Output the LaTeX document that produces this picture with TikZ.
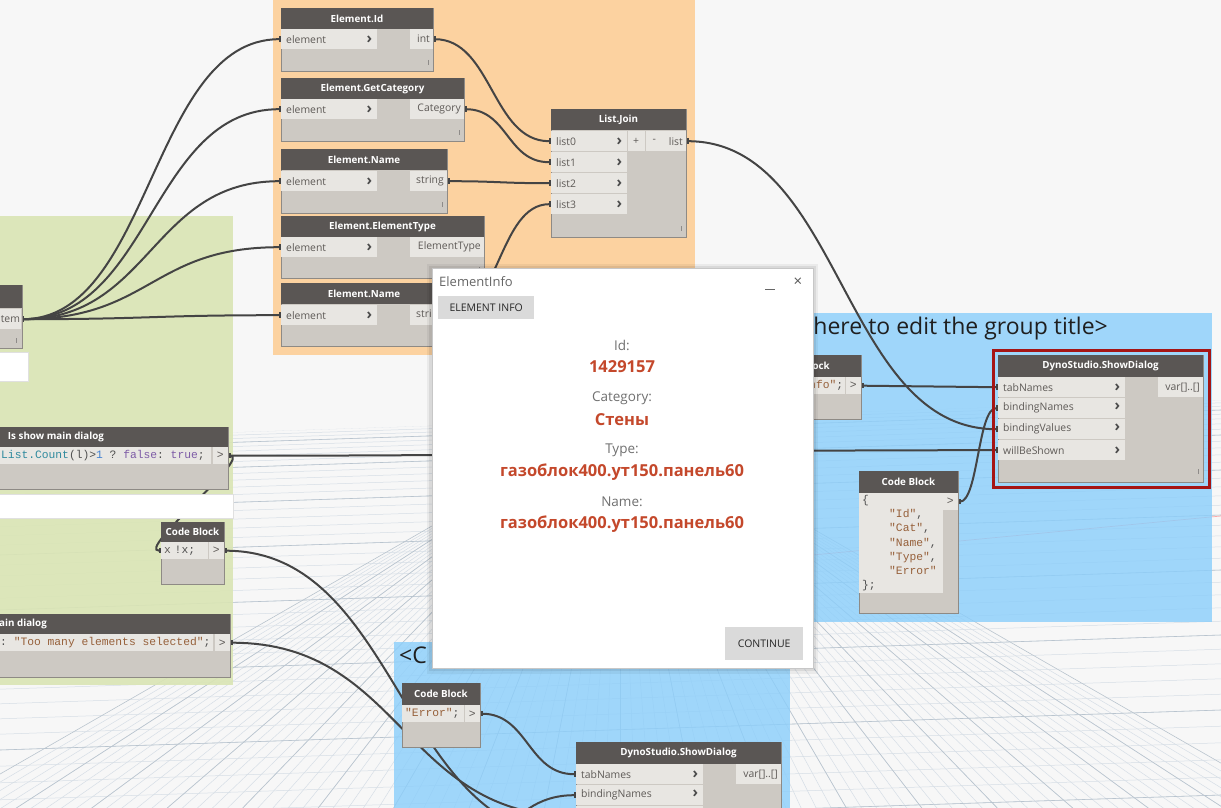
\documentclass[tikz,border=0pt]{standalone}
\usepackage{fontspec}
\setmainfont{Open Sans}
\setmonofont{Liberation Mono}
\usetikzlibrary{arrows.meta}

\definecolor{canvas}{HTML}{F7F7F7}
\definecolor{gridmin}{HTML}{D6DEE6}
\definecolor{gridmaj}{HTML}{B9C4CE}
\definecolor{grporange}{HTML}{FCD2A0}
\definecolor{grpgreen}{HTML}{DAE5B4}
\definecolor{grpblue}{HTML}{8ACEFB}
\definecolor{nodehead}{HTML}{5A5654}
\definecolor{nodebody}{HTML}{CDC9C3}
\definecolor{nodeedge}{HTML}{8E8A85}
\definecolor{portbg}{HTML}{E8E6E2}
\definecolor{porttext}{HTML}{5E5A57}
\definecolor{wirec}{HTML}{444444}
\definecolor{selred}{HTML}{A51515}
\definecolor{rust}{HTML}{C4482B}
\definecolor{dlggray}{HTML}{707070}
\definecolor{btngray}{HTML}{DADADA}
\definecolor{cstr}{HTML}{96603A}
\definecolor{cfun}{HTML}{2F8A9E}
\definecolor{cnum}{HTML}{3F7FD0}
\definecolor{ckey}{HTML}{7D5BA6}
\definecolor{cplain}{HTML}{505050}

\newcommand\portfont{\fontsize{10.4}{12}\selectfont}
\newcommand\headfont{\fontsize{9.8}{12}\selectfont\bfseries}
\newcommand\codefont{\fontsize{11.3}{14.2}\selectfont\ttfamily}
\newcommand\grpfont{\fontsize{23}{27}\selectfont}
\newcommand\dlgtitlefont{\fontsize{13}{15}\selectfont}
\newcommand\lblfont{\fontsize{13.5}{16}\selectfont}
\newcommand\valfont{\fontsize{16.5}{19}\selectfont\bfseries}
\newcommand\btnfont{\fontsize{10.5}{12}\selectfont}
\newcommand\chev{{\fontsize{15}{12}\selectfont\bfseries\color{black!70}›}}

\pgfdeclarelayer{bg}
\pgfdeclarelayer{wires}
\pgfsetlayers{bg,wires,main}

\begin{document}
\begin{tikzpicture}[x=1pt,y=-1pt,
  dnbox/.style={anchor=north west, draw=nodeedge, line width=0.8pt, fill=nodebody, inner sep=0pt},
  dnhead/.style={fill=nodehead},
  dntitle/.style={text=white, font=\headfont, inner sep=0pt},
  dnport/.style={anchor=north west, fill=portbg, minimum height=20pt, inner xsep=5pt, inner ysep=0pt, text width=#1, font=\portfont, text=porttext},
  dnout/.style={anchor=north east, fill=portbg, minimum height=20pt, inner xsep=3pt, inner ysep=0pt, text width=#1, align=right, font=\portfont, text=porttext},
  cbrow/.style={anchor=north west, fill=portbg, minimum height=17pt, inner xsep=3pt, inner ysep=0pt, text width=#1, font=\codefont, text=cplain},
  cbout/.style={anchor=north east, fill=portbg, minimum width=15pt, minimum height=17pt, inner sep=0pt, font=\codefont, text=porttext},
  cbtxt/.style={anchor=west, font=\codefont, text=cplain, inner sep=0pt},
  grip/.style={draw=porttext!70, line width=0.7pt},
  wire/.style={draw=wirec, line width=2pt, {Rectangle[length=2.5pt,width=5.5pt]}-{Rectangle[length=2.5pt,width=5.5pt]}},
  gridln/.style={draw=gridmin, line width=0.5pt},
  gridmj/.style={draw=gridmaj, line width=0.6pt},
  grptitle/.style={font=\grpfont, text=black!88, inner sep=0pt},
  lbl/.style={font=\lblfont, text=dlggray, inner sep=0pt},
  val/.style={font=\valfont, text=rust, inner sep=0pt},
  btn/.style={anchor=north west, fill=btngray, font=\btnfont, text=black!85, inner sep=0pt}]

\useasboundingbox (0,0) rectangle (1221,808);

% canvas, floor grid and groups
\begin{pgfonlayer}{bg}
 \fill[canvas] (0,0) rectangle (1221,808);
 \begin{scope}
  \clip (0,440) -- (1221,400) -- (1221,808) -- (0,808) -- cycle;
  \foreach \i in {4,...,46} \draw[gridln] (0,{430+0.2*\i*\i}) -- (1221,{390+0.2*\i*\i});
  \foreach \j in {-44,...,44} \draw[gridln] (620,418) -- ({620+\j*38},1400);
  \foreach \i in {5,10,...,45} \draw[gridmj] (0,{430+0.2*\i*\i}) -- (1221,{390+0.2*\i*\i});
  \foreach \j in {-45,-40,...,45} \draw[gridmj] (620,418) -- ({620+\j*38},1400);
  \draw[red!70, opacity=0.45, line width=0.7pt] (813,555) -- (1221,516);
 \end{scope}
 \fill[grporange] (273,-5) rectangle (695,355);
 \fill[grpgreen, fill opacity=0.9] (-5,216) rectangle (233,685);
 \fill[grpblue, fill opacity=0.8] (720,313) rectangle (1212,622);
 \fill[grpblue, fill opacity=0.8] (394,642) rectangle (790,815);
 \node[grptitle, anchor=base east] (t-blue1) at (1108,334) {<Click here to edit the group title>};
 \node[grptitle, anchor=base west] (t-blue2) at (399,663) {<C};
\end{pgfonlayer}

% selection item node
\node[dnbox, minimum width=102pt, minimum height=63pt] (itm) at (-80,285) {};
\fill[dnhead] (itm.north west) rectangle ++(102,23);
\node[dnout=17pt] (itm-out) at (21,309) {tem};
\draw[grip] (16,338) -- (16,343);

% Element.Id
\node[dnbox, minimum width=152pt, minimum height=63pt] (eid) at (281,8) {};
\fill[dnhead] (eid.north west) rectangle ++(152,21);
\node[dntitle] (eid-t) at (357,18.5) {Element.Id};
\node[dnport=86pt] (eid-in) at (281,29) {element\hfill\chev};
\node[dnout=17pt] (eid-out) at (433,29) {int};
\draw[grip] (428,60) -- (428,65);

% Element.GetCategory
\node[dnbox, minimum width=183pt, minimum height=63pt] (ecat) at (281,78) {};
\fill[dnhead] (ecat.north west) rectangle ++(183,21);
\node[dntitle] (ecat-t) at (372.5,88.5) {Element.GetCategory};
\node[dnport=86pt] (ecat-in) at (281,99) {element\hfill\chev};
\node[dnout=48pt] (ecat-out) at (464,99) {Category};
\draw[grip] (459,130) -- (459,135);

% Element.Name
\node[dnbox, minimum width=166pt, minimum height=64pt] (enam) at (281,149) {};
\fill[dnhead] (enam.north west) rectangle ++(166,21);
\node[dntitle] (enam-t) at (364,159.5) {Element.Name};
\node[dnport=86pt] (enam-in) at (281,171) {element\hfill\chev};
\node[dnout=31pt] (enam-out) at (447,171) {string};
\draw[grip] (442,202) -- (442,207);

% Element.ElementType
\node[dnbox, minimum width=203pt, minimum height=62pt] (etyp) at (281,216) {};
\fill[dnhead] (etyp.north west) rectangle ++(203,21);
\node[dntitle] (etyp-t) at (382.5,226.5) {Element.ElementType};
\node[dnport=86pt] (etyp-in) at (281,237) {element\hfill\chev};
\node[dnout=68pt] (etyp-out) at (484,237) {ElementType};
\draw[grip] (479,267) -- (479,272);

% Element.Name (2)
\node[dnbox, minimum width=166pt, minimum height=63pt] (enm2) at (281,283) {};
\fill[dnhead] (enm2.north west) rectangle ++(166,21);
\node[dntitle] (enm2-t) at (364,293.5) {Element.Name};
\node[dnport=86pt] (enm2-in) at (281,305) {element\hfill\chev};
\node[dnout=31pt] (enm2-out) at (447,305) {string};

% List.Join
\node[dnbox, minimum width=135pt, minimum height=128pt] (lj) at (551,109) {};
\fill[dnhead] (lj.north west) rectangle ++(135,21);
\node[dntitle] (lj-t) at (618.5,119.5) {List.Join};
\foreach \k/\yy in {0/131,1/152,2/173,3/194}
  \node[dnport=66pt] (lj-in\k) at (551,\yy) {list\k\hfill\chev};
\node[anchor=north west, fill=portbg, minimum width=17pt, minimum height=20pt, inner sep=0pt, font=\portfont, text=porttext] (lj-add) at (627.5,131) {+};
\node[anchor=north west, fill=portbg, minimum width=17pt, minimum height=20pt, inner sep=0pt, font=\portfont, text=porttext] (lj-rem) at (645.5,131) {-};
\node[dnout=18pt] (lj-out) at (686,131) {list};
\draw[grip] (681,226) -- (681,231);

% DynoStudio.ShowDialog (selected)
\draw[selred, line width=3pt] (993,350) rectangle (1209,487);
\node[dnbox, minimum width=205pt, minimum height=127pt] (sd) at (998,355) {};
\fill[dnhead] (sd.north west) rectangle ++(205,22);
\node[dntitle] (sd-t) at (1100.5,366) {DynoStudio.ShowDialog};
\foreach \k/\nm/\yy in {0/tabNames/377,1/bindingNames/398,2/bindingValues/419,3/willBeShown/440}
  \node[dnport=117pt] (sd-in\k) at (998,\yy) {\nm\hfill\chev};
\node[dnout=39pt] (sd-out) at (1203,377) {var[]..[]};
\draw[grip] (1198,469) -- (1198,474);

% DynoStudio.ShowDialog (lower group)
\node[dnbox, minimum width=205pt, minimum height=138pt] (sd2) at (576,742) {};
\fill[dnhead] (sd2.north west) rectangle ++(205,22);
\node[dntitle] (sd2-t) at (678.5,753) {DynoStudio.ShowDialog};
\node[dnport=117pt] (sd2-in0) at (576,764) {tabNames\hfill\chev};
\node[dnport=117pt] (sd2-in1) at (576,785) {bindingNames\hfill\chev};
\node[dnport=117pt] (sd2-in2) at (576,806) {};
\node[dnport=117pt] (sd2-in3) at (576,827) {};
\node[dnout=39pt] (sd2-out) at (781,764) {var[]..[]};

% Code Block, tab name
\node[dnbox, minimum width=116pt, minimum height=64pt] (cbi) at (745,355) {};
\fill[dnhead] (cbi.north west) rectangle ++(116,22);
\node[dntitle] (cbi-t) at (803,366) {Code Block};
\node[cbrow=94pt] (cbi-code) at (745,377) {\textcolor{cstr}{"ElementInfo"};};
\node[cbout] (cbi-out) at (861,377) {>};

% Code Block, binding names
\node[dnbox, minimum width=99pt, minimum height=142pt] (cbr) at (859,471) {};
\fill[dnhead] (cbr.north west) rectangle ++(99,22);
\node[dntitle] (cbr-t) at (908.5,482) {Code Block};
\node[cbrow=78pt, minimum height=100pt, align=left] (cbr-code) at (859,493)
  {\{\\
   \hspace*{27pt}\textcolor{cstr}{"Id"},\\
   \hspace*{27pt}\textcolor{cstr}{"Cat"},\\
   \hspace*{27pt}\textcolor{cstr}{"Name"},\\
   \hspace*{27pt}\textcolor{cstr}{"Type"},\\
   \hspace*{27pt}\textcolor{cstr}{"Error"}\\
   \};};
\node[cbout] (cbr-out) at (958,493) {>};

% Is show main dialog
\node[dnbox, minimum width=344pt, minimum height=62pt] (ism) at (-116,427) {};
\fill[dnhead] (ism.north west) rectangle ++(344,20);
\node[dntitle] (ism-t) at (56,437) {Is show main dialog};
\node[cbrow=321pt] (ism-code) at (-116,447) {};
\node[cbtxt] (ism-txt) at (1,456) {\textcolor{cfun}{List.Count}(l)>\textcolor{cnum}{1} ? \textcolor{ckey}{false}: \textcolor{ckey}{true};};
\node[cbout] (ism-out) at (228,447) {>};

% notes
\node[anchor=north west, fill=white, draw=black!12, minimum width=30pt, minimum height=29pt] (note-a) at (-2,352) {};
\node[anchor=north west, fill=white, draw=black!12, minimum width=235pt, minimum height=24pt] (note-b) at (-2,494) {};

% Code Block, negation
\node[dnbox, minimum width=63pt, minimum height=62pt] (cbx) at (161,522) {};
\fill[dnhead] (cbx.north west) rectangle ++(63,20);
\node[dntitle] (cbx-t) at (192.5,532) {Code Block};
\node[cbrow=41pt] (cbx-code) at (161,542) {\textcolor{porttext}{x} !x;};
\node[cbout] (cbx-out) at (224,542) {>};

% error message
\node[dnbox, minimum width=330pt, minimum height=63pt] (msg) at (-100,614) {};
\fill[dnhead] (msg.north west) rectangle ++(330,20);
\node[dntitle, anchor=west] (msg-t) at (-1,624) {ain dialog};
\node[cbrow=307pt] (msg-code) at (-100,634) {};
\node[cbtxt] (msg-txt) at (0,643) {: \textcolor{cstr}{"Too many elements selected"};};
\node[cbout] (msg-out) at (230,634) {>};

% Code Block, error tab
\node[dnbox, minimum width=78pt, minimum height=64pt] (cbe) at (402,683) {};
\fill[dnhead] (cbe.north west) rectangle ++(78,22);
\node[dntitle] (cbe-t) at (441,694) {Code Block};
\node[cbrow=56pt] (cbe-code) at (402,705) {\textcolor{cstr}{"Error"};};
\node[cbout] (cbe-out) at (480,705) {>};

\coordinate (namesrc) at (420,880);

% wires
\begin{pgfonlayer}{wires}
 \draw[wire] (itm-out.east) .. controls +(130,0) and +(-130,0) .. (eid-in.west);
 \draw[wire] (itm-out.east) .. controls +(130,0) and +(-130,0) .. (ecat-in.west);
 \draw[wire] (itm-out.east) .. controls +(130,0) and +(-130,0) .. (enam-in.west);
 \draw[wire] (itm-out.east) .. controls +(130,0) and +(-130,0) .. (etyp-in.west);
 \draw[wire] (itm-out.east) .. controls +(130,0) and +(-130,0) .. (enm2-in.west);
 \draw[wire] (eid-out.east) .. controls +(59,0) and +(-59,0) .. (lj-in0.west);
 \draw[wire] (ecat-out.east) .. controls +(44,0) and +(-44,0) .. (lj-in1.west);
 \draw[wire] (enam-out.east) .. controls +(52,0) and +(-52,0) .. (lj-in2.west);
 \draw[wire] (enm2-out.east) .. controls +(52,0) and +(-52,0) .. (lj-in3.west);
 \draw[wire] (lj-out.east) .. controls +(156,0) and +(-156,0) .. (sd-in2.west);
 \draw[wire] (cbi-out.east) .. controls +(68,0) and +(-68,0) .. (sd-in0.west);
 \draw[wire] (cbr-out.east) .. controls +(20,0) and +(-20,0) .. (sd-in1.west);
 \draw[wire] (ism-out.east) .. controls +(385,0) and +(-385,0) .. (sd-in3.west);
 \draw[wire] (ism-out.east) .. controls +(25,0) and +(-25,0) .. (cbx-code.west);
 \draw[wire] (cbx-out.east) .. controls +(176,0) and +(-176,0) .. (sd2-in3.west);
 \draw[wire] (msg-out.east) .. controls +(173,0) and +(-173,0) .. (sd2-in2.west);
 \draw[wire] (cbe-out.east) .. controls +(48,0) and +(-48,0) .. (sd2-in0.west);
 \draw[wire] (namesrc) .. controls +(78,0) and +(-78,0) .. (sd2-in1.west);
\end{pgfonlayer}

% ElementInfo dialog
\fill[black, opacity=0.05] (427,264) rectangle (818,674);
\fill[black, opacity=0.07] (429,266) rectangle (816,671);
\node[anchor=north west, fill=white, draw=black!22, line width=0.6pt, minimum width=381pt, minimum height=400pt, inner sep=0pt] (dlg) at (432,268) {};
\node[anchor=west, font=\dlgtitlefont, text=black!60, inner sep=0pt] (dlg-title) at (439,282) {ElementInfo};
\draw[black!60, line width=0.8pt] (765,289) -- (775,289);
\node[font=\fontsize{15}{15}\selectfont, text=black!65, inner sep=0pt] (dlg-close) at (798,282) {×};
\node[btn, minimum width=96pt, minimum height=23pt] (btn-info) at (438,296) {ELEMENT INFO};
\node[lbl] (lbl-id) at (622,345) {Id:};
\node[val] (val-id) at (622,367) {1429157};
\node[lbl] (lbl-cat) at (622,398) {Category:};
\node[val] (val-cat) at (622,420) {Стены};
\node[lbl] (lbl-type) at (622,450) {Type:};
\node[val] (val-type) at (622,472) {газоблок400.ут150.панель60};
\node[lbl] (lbl-name) at (622,502) {Name:};
\node[val] (val-name) at (622,524) {газоблок400.ут150.панель60};
\node[btn, minimum width=78pt, minimum height=33pt] (btn-cont) at (725,627) {CONTINUE};
\end{tikzpicture}
\end{document}
